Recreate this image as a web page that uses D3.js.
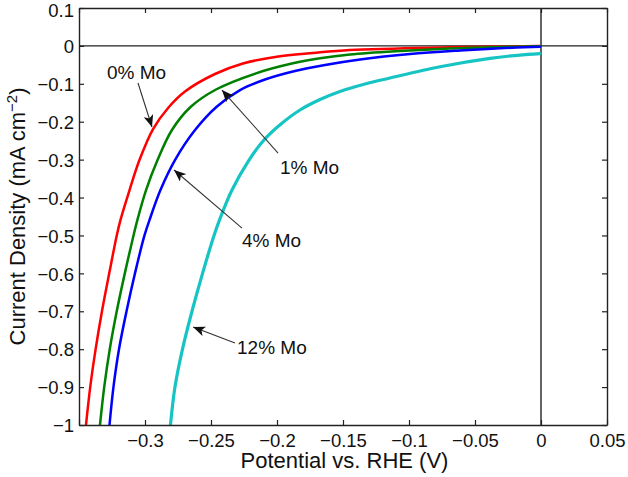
<!DOCTYPE html>
<html>
<head>
<meta charset="utf-8">
<script src="https://cdn.jsdelivr.net/npm/d3@7"></script>
<style>
  html, body { margin: 0; padding: 0; background: #fff; }
  svg { display: block; font-family: "Liberation Sans", Arial, Helvetica, sans-serif; }
</style>
</head>
<body>
<svg id="chart" width="628" height="477"></svg>
<script>
// ---------------- data ----------------
const xTicks = [-0.35, -0.3, -0.25, -0.2, -0.15, -0.1, -0.05, 0, 0.05];
const xTickLabels = ["", "\u22120.3", "\u22120.25", "\u22120.2", "\u22120.15", "\u22120.1", "\u22120.05", "0", "0.05"];
const yTicks = [0.1, 0, -0.1, -0.2, -0.3, -0.4, -0.5, -0.6, -0.7, -0.8, -0.9, -1];
const yTickLabels = ["0.1", "0", "\u22120.1", "\u22120.2", "\u22120.3", "\u22120.4", "\u22120.5", "\u22120.6", "\u22120.7", "\u22120.8", "\u22120.9", "\u22121"];

const seriesNames = ["0% Mo", "1% Mo", "4% Mo", "12% Mo"];
const seriesColors = ["#ff0000", "#008000", "#0000ff", "#17c4c4"];

// potential (V vs RHE) and current density (mA cm^-2)
const potential0 = [-0.3447, -0.3415, -0.3374, -0.3326, -0.3271, -0.3214, -0.3186, -0.3117, -0.3042, -0.2939, -0.2822, -0.2697, -0.2470, -0.2258, -0.2002, -0.1727, -0.1447, -0.0689, -0.0008];
const current0   = [-1.0, -0.9, -0.8, -0.7, -0.6, -0.5, -0.4594, -0.3802, -0.3011, -0.2193, -0.1625, -0.1203, -0.0741, -0.0464, -0.0285, -0.0187, -0.0108, -0.0037, -0.0003];

const potential1 = [-0.3341, -0.3309, -0.3267, -0.3214, -0.3153, -0.3087, -0.3058, -0.2992, -0.2905, -0.2796, -0.2655, -0.2462, -0.2159, -0.1879, -0.1674, -0.1447, -0.1068, -0.0689, -0.0311, -0.0008];
const current1   = [-1.0, -0.9, -0.8, -0.7, -0.6, -0.5, -0.4594, -0.3802, -0.3011, -0.2219, -0.1612, -0.1150, -0.0723, -0.0459, -0.0327, -0.0227, -0.0135, -0.0069, -0.0029, -0.0008];

const potential4 = [-0.3269, -0.3239, -0.3197, -0.3140, -0.3076, -0.3004, -0.2966, -0.2883, -0.2773, -0.2621, -0.2457, -0.2280, -0.2091, -0.1864, -0.1636, -0.1371, -0.0992, -0.0614, -0.0311, -0.0008];
const current4   = [-1.0, -0.9, -0.8, -0.7, -0.6, -0.5, -0.4594, -0.3802, -0.3011, -0.2219, -0.1604, -0.1164, -0.0887, -0.0662, -0.0504, -0.0359, -0.0214, -0.0121, -0.0063, -0.0021];

const potential12 = [-0.2807, -0.2773, -0.2716, -0.2644, -0.2564, -0.2477, -0.2436, -0.2341, -0.2212, -0.2099, -0.1970, -0.1826, -0.1674, -0.1523, -0.1333, -0.1144, -0.0765, -0.0386, -0.0099, -0.0008];
const current12   = [-1.0, -0.9, -0.8, -0.7, -0.6, -0.5, -0.4594, -0.3802, -0.3011, -0.2483, -0.2061, -0.1691, -0.1414, -0.1203, -0.1005, -0.0847, -0.0549, -0.0327, -0.0222, -0.0201];

// annotations: label position and arrow (from -> tip), in data units
const annotLabelX = [-0.3288, -0.1977, -0.2265, -0.2303];
const annotLabelY = [-0.0689, -0.3195, -0.5121, -0.7945];
const arrowFromX  = [-0.3053, -0.1992, -0.2265, -0.2318];
const arrowFromY  = [-0.0979, -0.2826, -0.4805, -0.7839];
const arrowTipX   = [-0.2947, -0.2417, -0.2780, -0.2636];
const arrowTipY   = [-0.2140, -0.1164, -0.3274, -0.7417];

// ---------------- layout ----------------
const W = 628, H = 477;
const L = 79, R = 607, T = 8, B = 425;

const svg = d3.select("#chart");
const x = d3.scaleLinear().domain([-0.35, 0.05]).range([L, R]);
const y = d3.scaleLinear().domain([-1, 0.1]).range([B, T]);

const axisColor = "#222";
const tickFont = 18.5;
const titleFont = 22;

// clip
const defs = svg.append("defs");
defs.append("clipPath").attr("id", "plotclip")
  .append("rect").attr("x", L).attr("y", T).attr("width", R - L).attr("height", B - T);

// zero lines
svg.append("line").attr("x1", L).attr("x2", R).attr("y1", y(0)).attr("y2", y(0))
  .attr("stroke", axisColor).attr("stroke-width", 1.4);
svg.append("line").attr("x1", x(0)).attr("x2", x(0)).attr("y1", T).attr("y2", B)
  .attr("stroke", axisColor).attr("stroke-width", 1.4);

// series
const seriesData = [
  d3.zip(potential0, current0),
  d3.zip(potential1, current1),
  d3.zip(potential4, current4),
  d3.zip(potential12, current12)
];
const line = d3.line().x(d => x(d[0])).y(d => y(d[1])).curve(d3.curveCatmullRom.alpha(0.5));
const gLines = svg.append("g").attr("clip-path", "url(#plotclip)");
seriesData.forEach((pts, i) => {
  gLines.append("path")
    .attr("d", line(pts))
    .attr("fill", "none")
    .attr("stroke", seriesColors[i])
    .attr("stroke-width", i === 3 ? 3.2 : 2.5)
    .attr("stroke-linejoin", "round")
    .attr("stroke-linecap", "round");
});

// axes (ticks inward on all 4 sides)
const tickLen = 5;
const xAxisB = d3.axisBottom(x).tickValues(xTicks).tickSizeInner(-tickLen).tickSizeOuter(0)
  .tickPadding(9).tickFormat((d, i) => xTickLabels[i]);
const xAxisT = d3.axisTop(x).tickValues(xTicks).tickSizeInner(-tickLen).tickSizeOuter(0).tickFormat("");
const yAxisL = d3.axisLeft(y).tickValues(yTicks).tickSizeInner(-tickLen).tickSizeOuter(0)
  .tickPadding(10).tickFormat((d, i) => yTickLabels[i]);
const yAxisR = d3.axisRight(y).tickValues(yTicks).tickSizeInner(-tickLen).tickSizeOuter(0).tickFormat("");

function styleAxis(g) {
  g.selectAll("path.domain").attr("stroke", axisColor).attr("stroke-width", 1.4);
  g.selectAll(".tick line").attr("stroke", axisColor).attr("stroke-width", 1.2);
  g.selectAll(".tick text").attr("fill", "#111").attr("font-size", tickFont)
    .attr("font-family", "'Liberation Sans', Arial, Helvetica, sans-serif");
}
svg.append("g").attr("transform", `translate(0,${B})`).call(xAxisB).call(styleAxis)
  .selectAll(".tick text").attr("dy", "0.71em");
svg.append("g").attr("transform", `translate(0,${T})`).call(xAxisT).call(styleAxis);
svg.append("g").attr("transform", `translate(${L},0)`).call(yAxisL).call(styleAxis)
  .selectAll(".tick text").attr("dy", "0.36em").attr("x", -5)
  .attr("y", (d, i) => i === 0 ? 2 : 0);
svg.append("g").attr("transform", `translate(${R},0)`).call(yAxisR).call(styleAxis);

// axis titles
svg.append("text").attr("x", 344.5).attr("y", 468).attr("text-anchor", "middle")
  .attr("font-size", titleFont).attr("fill", "#111").text("Potential vs. RHE (V)");
const yt = svg.append("text").attr("transform", `translate(25,${(T + B) / 2}) rotate(-90)`)
  .attr("text-anchor", "middle").attr("font-size", titleFont).attr("fill", "#111");
yt.append("tspan").text("Current Density (mA cm");
yt.append("tspan").attr("baseline-shift", "super").attr("font-size", 15).text("\u22122");
yt.append("tspan").text(")");

// annotations
defs.append("marker").attr("id", "arrowhead").attr("viewBox", "0 0 12 10")
  .attr("refX", 12).attr("refY", 5).attr("markerWidth", 12).attr("markerHeight", 10)
  .attr("markerUnits", "userSpaceOnUse").attr("orient", "auto")
  .append("path").attr("d", "M0,0 L12,5 L0,10 L3,5 Z").attr("fill", "#111");

const gAnn = svg.append("g");
seriesNames.forEach((name, i) => {
  gAnn.append("line")
    .attr("x1", x(arrowFromX[i])).attr("y1", y(arrowFromY[i]))
    .attr("x2", x(arrowTipX[i])).attr("y2", y(arrowTipY[i]))
    .attr("stroke", "#333").attr("stroke-width", 1.1)
    .attr("marker-end", "url(#arrowhead)");
  gAnn.append("text")
    .attr("x", x(annotLabelX[i])).attr("y", y(annotLabelY[i]))
    .attr("dy", "0.36em").attr("font-size", 19).attr("fill", "#111")
    .text(name);
});
</script>
</body>
</html>
